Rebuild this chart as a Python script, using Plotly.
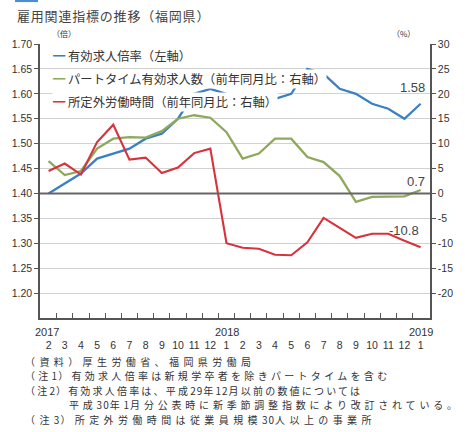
import re
import plotly.graph_objects as go

# Months from 2017/2 to 2019/1
months = ["2", "3", "4", "5", "6", "7", "8", "9", "10", "11", "12",
          "1", "2", "3", "4", "5", "6", "7", "8", "9", "10", "11", "12", "1"]
year_labels = {0: "2017", 11: "2018", 23: "2019"}

# 有効求人倍率 (倍, left axis)
ratio = [1.40, 1.42, 1.44, 1.47, 1.48, 1.49, 1.51, 1.52, 1.55, 1.60, 1.61, 1.60,
         1.59, 1.58, 1.59, 1.60, 1.65, 1.64, 1.61, 1.60, 1.58, 1.57, 1.55, 1.58]
# パートタイム有効求人数 前年同月比 (%, right axis)
part_time = [6.5, 3.7, 4.5, 9.0, 11.0, 11.3, 11.2, 12.5, 15.0, 15.7, 15.2, 12.3,
             7.0, 8.0, 11.0, 11.0, 7.3, 6.3, 3.5, -1.7, -0.7, -0.6, -0.6, 0.7]
# 所定外労働時間 前年同月比 (%, right axis)
overtime = [4.5, 6.0, 3.8, 10.3, 13.8, 6.8, 7.2, 4.1, 5.2, 8.1, 9.0, -10.0,
            -10.9, -11.1, -12.3, -12.4, -9.8, -4.9, -6.9, -8.9, -8.1, -8.1, -9.5, -10.8]

left_ticks = [1.20, 1.25, 1.30, 1.35, 1.40, 1.45, 1.50, 1.55, 1.60, 1.65, 1.70]
right_ticks = [-20, -15, -10, -5, 0, 5, 10, 15, 20, 25, 30]

names = ["有効求人倍率（左軸）",
         "パートタイム有効求人数（前年同月比：右軸）",
         "所定外労働時間（前年同月比：右軸）"]
colors = ["#3b7fc4", "#8ea85c", "#d8323c"]

# notes: (text, left edge in px, tracking in px)
notes = [
    ("（資料）厚生労働省、福岡県労働局", 21, 4.4),
    ("（注1）有効求人倍率は新規学卒者を除きパートタイムを含む", 21, 3.3),
    ("（注2）有効求人倍率は、平成29年12月以前の数値については", 21, 2.2),
    ("平成30年1月分公表時に新季節調整指数により改訂されている。", 67, 3.8),
    ("（注3）所定外労働時間は従業員規模30人以上の事業所", 21, 4.4),
]
note_y = [361.0, 375.5, 390.0, 404.5, 419.0]

JP = "Noto Sans CJK JP"
NUM = "Liberation Sans"
INK = "#333333"
AX = "#555555"

# plot-area geometry in pixels
W, H = 465, 432
M_L, M_R, M_T, M_B = 39, 18, 44, 114
PLOT_W = W - M_L - M_R
PLOT_H = H - M_T - M_B


def spaced(text, wide=4.0, narrow=1.0):
    """Wide tracking for kanji/kana, tight tracking for ASCII digits."""
    out = []
    for run in re.findall(r"[\x00-\x7f]+|[^\x00-\x7f]+", text):
        sp = narrow if run.isascii() else wide
        out.append(f"<span style='letter-spacing:{sp}px'>{run}</span>")
    return "".join(out)


x = list(range(len(months)))

fig = go.Figure()
fig.add_trace(go.Scatter(x=x, y=part_time, yaxis="y2", mode="lines",
                         line=dict(color=colors[1], width=2.3), name=names[1]))
fig.add_trace(go.Scatter(x=x, y=overtime, yaxis="y2", mode="lines",
                         line=dict(color=colors[2], width=2.1), name=names[2]))
fig.add_trace(go.Scatter(x=x, y=ratio, yaxis="y", mode="lines",
                         line=dict(color=colors[0], width=2.3), name=names[0]))

annotations = []

# legend rows: coloured dash + label on a white box that masks lines behind it
for i, (nm, c) in enumerate(zip(names, colors)):
    annotations.append(dict(
        xref="paper", yref="paper", x=0.031, y=0.958 - i * 0.0843,
        xanchor="left", yanchor="middle", showarrow=False,
        text=f"<span style='color:{c}'>━</span> {nm}",
        font=dict(family=JP, size=12.3, color=INK),
        bgcolor="white", borderpad=0))

# value labels at the last month
last = len(months) - 1
annotations += [
    dict(x=last, y=ratio[last], xref="x", yref="y", text=f"{ratio[last]:.2f}",
         showarrow=False, xshift=-8, yshift=16,
         font=dict(family=NUM, size=13, color="#444")),
    dict(x=last, y=part_time[last], xref="x", yref="y2", text=f"{part_time[last]:.1f}",
         showarrow=False, xshift=-5, yshift=8,
         font=dict(family=NUM, size=13, color="#444")),
    dict(x=last, y=overtime[last], xref="x", yref="y2", text=f"{overtime[last]:.1f}",
         showarrow=False, xshift=-17, yshift=17,
         font=dict(family=NUM, size=13, color="#444")),
]

# year labels above the month labels
for k, yr in year_labels.items():
    annotations.append(dict(x=k, y=0, xref="x", yref="paper", text=yr,
                            showarrow=False, yanchor="middle", yshift=-14,
                            xshift=-2 if k == 0 else 0,
                            font=dict(family=NUM, size=11, color=INK)))

# unit labels
annotations += [
    dict(xref="paper", yref="paper", x=0.026, y=1.0, yanchor="bottom", yshift=3,
         text="（倍）", showarrow=False, font=dict(family=JP, size=8, color=INK)),
    dict(xref="paper", yref="paper", x=0.966, y=1.0, yanchor="bottom", yshift=3,
         text="（%）", showarrow=False, font=dict(family=JP, size=8, color=INK)),
]

# title
annotations.append(dict(xref="paper", yref="paper", x=-0.064, y=1.0,
                        xanchor="left", yanchor="middle", yshift=29,
                        text="<span style='letter-spacing:0.8px'>雇用関連指標の推移（福岡県）</span>",
                        showarrow=False,
                        font=dict(family=JP, size=13, color="#444")))

# notes under the chart, one line each
for (t, left, track), yy in zip(notes, note_y):
    annotations.append(dict(
        xref="paper", yref="paper", x=(left - M_L) / PLOT_W,
        y=(H - M_B - yy) / PLOT_H,
        xanchor="left", yanchor="middle", align="left", showarrow=False,
        text=spaced(t, wide=track), font=dict(family=JP, size=10, color=INK)))

shapes = [
    # heavy reference line at 1.40 / 0 %
    dict(type="line", xref="paper", yref="y", x0=0, x1=1, y0=1.40, y1=1.40,
         line=dict(color="#666666", width=2)),
    # header tab at the top edge
    dict(type="rect", xref="paper", yref="paper", x0=-0.064, x1=-0.005,
         y0=1.153, y1=1.165, fillcolor="#4a8fd0", line=dict(width=0)),
]

fig.update_layout(
    width=W, height=H,
    margin=dict(l=M_L, r=M_R, t=M_T, b=M_B),
    paper_bgcolor="white", plot_bgcolor="white",
    showlegend=False,
    annotations=annotations,
    shapes=shapes,
    xaxis=dict(
        range=[-0.53, 23.58], tickmode="array", tickvals=x, ticktext=months,
        ticks="", showgrid=False, zeroline=False,
        showline=True, linecolor=AX, linewidth=1.5,
        ticklabelstandoff=17,
        tickfont=dict(family=NUM, size=10.5, color=INK),
        minor=dict(tickmode="array", tickvals=[k + 0.5 for k in range(23)],
                   ticks="inside", ticklen=5, tickcolor=AX, tickwidth=1.2,
                   showgrid=False),
    ),
    yaxis=dict(
        range=[1.15, 1.70], tickmode="array", tickvals=left_ticks,
        ticktext=[f"{v:.2f}" for v in left_ticks],
        ticks="outside", ticklen=4, tickcolor=AX,
        showgrid=True, gridcolor="#d2d2d2", gridwidth=1, zeroline=False,
        showline=True, linecolor=AX, linewidth=1.5,
        tickfont=dict(family=NUM, size=10.5, color=INK),
    ),
    yaxis2=dict(
        range=[-25, 30], overlaying="y", side="right", tickmode="array",
        tickvals=right_ticks, ticktext=[str(v) for v in right_ticks],
        ticks="outside", ticklen=4, tickcolor=AX,
        showgrid=False, zeroline=False,
        showline=True, linecolor=AX, linewidth=1.5,
        tickfont=dict(family=NUM, size=10.5, color=INK),
    ),
)

fig.write_html("out.html")
